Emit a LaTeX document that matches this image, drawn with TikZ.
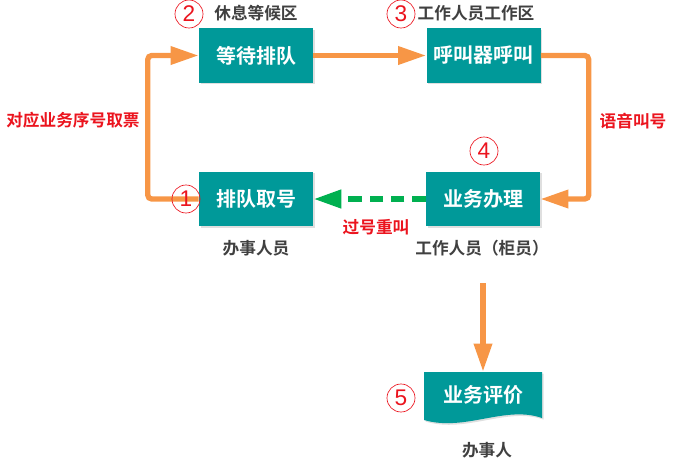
\documentclass[tikz,border=0pt]{standalone}
\usepackage{fontspec}
\usepackage{xcolor}
\usepackage{tikz}
\usetikzlibrary{arrows.meta,shadows}
\newfontfamily\cjk{Noto Sans CJK SC}[BoldFont={Noto Sans CJK SC Bold}]
\newfontfamily\numfont{Liberation Sans}
\definecolor{boxteal}{RGB}{0,153,153}
\definecolor{floworange}{RGB}{247,150,70}
\definecolor{recallgreen}{RGB}{0,176,80}
\definecolor{notered}{RGB}{235,20,30}
\definecolor{notegray}{RGB}{64,64,64}

\begin{document}
\begin{tikzpicture}[x=0.75pt,y=-0.75pt,
  stepbox/.style={fill=boxteal,text=white,minimum width=85.5pt,minimum height=41pt,
    inner sep=0pt,font=\cjk\bfseries\fontsize{15}{16}\selectfont,
    drop shadow={shadow xshift=1.2pt,shadow yshift=-1.2pt,opacity=.25}},
  numring/.style={draw=notered,line width=0.5pt,circle,inner sep=0pt,minimum size=21pt,
    text=notered,font=\numfont\fontsize{17}{17}\selectfont},
  placelabel/.style={text=notegray,font=\cjk\bfseries\fontsize{12.5}{14}\selectfont},
  flowlabel/.style={text=notered,font=\cjk\bfseries\fontsize{12.5}{14}\selectfont},
  orangeflow/.style={draw=floworange,line width=4pt,rounded corners=3pt,
    -{Triangle[length=21pt,width=13pt]}},
  recallflow/.style={draw=recallgreen,line width=4.5pt,dash pattern=on 10pt off 6pt,
    -{Triangle[length=21pt,width=13pt]}}]
\useasboundingbox (0,0) rectangle (676,462);

% steps
\node[stepbox] (wait) at (256,55.5) {等待排队};
\node[stepbox] (call) at (483.5,55.5) {呼叫器呼叫};
\node[stepbox] (queue) at (256,199) {排队取号};
\node[stepbox] (serve) at (483,199) {业务办理};

% evaluation box with wavy bottom
\fill[boxteal,drop shadow={shadow xshift=1.2pt,shadow yshift=-1.2pt,opacity=.25}]
  (424,372) -- (542,372) -- (542,418) .. controls (505,405) and (465,432) .. (424,420) -- cycle;
\node[minimum width=88.5pt,minimum height=34.5pt,inner sep=0pt,text=white,
  font=\cjk\bfseries\fontsize{15}{16}\selectfont] (eval) at (483,395) {业务评价};
\coordinate (evalstart) at (483,283);

% connectors
\draw[orangeflow] (queue.west) -- ++(-51,0) |- (wait.west);
\draw[orangeflow] (wait.east) -- (call.west);
\draw[orangeflow] (call.east) -- ++(48,0) |- (serve.east);
\draw[orangeflow] (evalstart) -- (eval.north);
\draw[recallflow] (serve.west) -- (queue.east);

% labels
\node[placelabel] (restarea) at (256,13) {休息等候区};
\node[placelabel] (staffarea) at (476,13) {工作人员工作区};
\node[placelabel] (client) at (256,248) {办事人员};
\node[placelabel] (clerk) at (482,248) {工作人员（柜员）};
\node[placelabel] (rater) at (487,450) {办事人};
\node[flowlabel] (ticket) at (73,120) {对应业务序号取票};
\node[flowlabel] (voice) at (633,121) {语音叫号};
\node[flowlabel] (recall) at (376,227) {过号重叫};

% numbers
\node[numring] (n1) at (186,199) {1};
\node[numring] (n2) at (189,14) {2};
\node[numring] (n3) at (401,14) {3};
\node[numring] (n4) at (484,151) {4};
\node[numring] (n5) at (401,398) {5};
\end{tikzpicture}
\end{document}
